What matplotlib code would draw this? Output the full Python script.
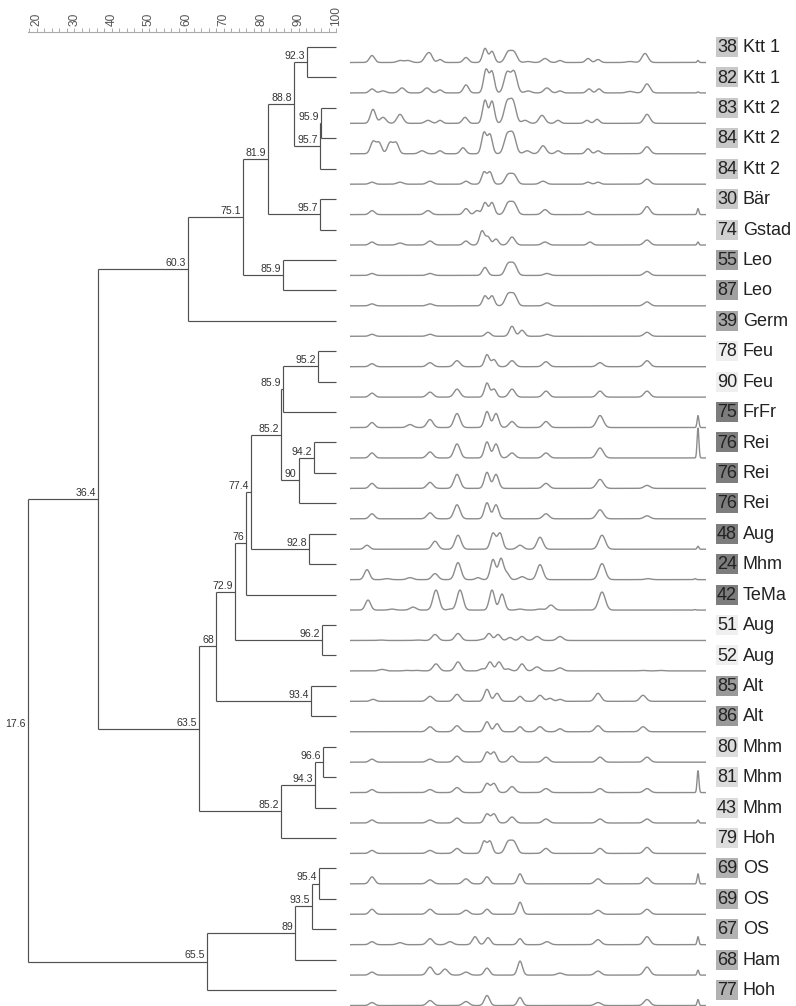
import numpy as np
import matplotlib
matplotlib.use("Agg")
import matplotlib.pyplot as plt
from matplotlib.patches import Rectangle

plt.rcParams['font.family'] = ['Liberation Sans', 'DejaVu Sans']

# ---------------- data ----------------
sample_ids = ["38", "82", "83", "84", "84", "30", "74", "55", "87", "39",
              "78", "90", "75", "76", "76", "76", "48", "24", "42", "51",
              "52", "85", "86", "80", "81", "43", "79", "69", "69", "67",
              "68", "77"]
sample_names = ["Ktt 1", "Ktt 1", "Ktt 2", "Ktt 2", "Ktt 2", "Bär", "Gstad", "Leo", "Leo", "Germ",
                "Feu", "Feu", "FrFr", "Rei", "Rei", "Rei", "Aug", "Mhm", "TeMa", "Aug",
                "Aug", "Alt", "Alt", "Mhm", "Mhm", "Mhm", "Hoh", "OS", "OS", "OS",
                "Ham", "Hoh"]
box_grays = ["#c8c8c8", "#c8c8c8", "#c8c8c8", "#c8c8c8", "#c8c8c8", "#c8c8c8", "#d0d0d0", "#a0a0a0", "#a0a0a0", "#a6a6a6",
             "#efefef", "#efefef", "#7d7d7d", "#7d7d7d", "#7d7d7d", "#7d7d7d", "#7d7d7d", "#7d7d7d", "#7d7d7d", "#efefef",
             "#efefef", "#9a9a9a", "#9a9a9a", "#dcdcdc", "#dcdcdc", "#dcdcdc", "#dcdcdc", "#b2b2b2", "#b2b2b2", "#b2b2b2",
             "#b2b2b2", "#b2b2b2"]

# cluster merges (leaf indices 0..31, internal nodes numbered from 32 on)
merge_left = [0, 2, 33, 32, 5, 35, 7, 37, 39, 10, 41, 13, 43, 42, 16, 45, 47, 19, 48, 21, 50, 23, 53, 54, 52, 40, 27, 58, 59, 60, 57]
merge_right = [1, 3, 4, 34, 6, 36, 8, 38, 9, 11, 12, 14, 15, 44, 17, 46, 18, 20, 49, 22, 51, 24, 25, 26, 55, 56, 28, 29, 30, 31, 61]
merge_similarity = [92.3, 95.9, 95.7, 88.8, 95.7, 81.9, 85.9, 75.1, 60.3, 95.2, 85.9, 94.2, 90, 85.2, 92.8, 77.4, 76,
                    96.2, 72.9, 93.4, 68, 96.6, 94.3, 85.2, 63.5, 36.4, 95.4, 93.5, 89, 65.5, 17.6]

# densitometric lane profiles: (migration distance, intensity, band width)
lane00 = [(22, 7, 2.6), (50, 2, 3), (58, 2, 3), (76, 5, 2.6), (80, 8, 2.6), (90, 3, 2.4), (116, 5, 2.6), (135, 14, 2.4),
          (142, 11, 2.4), (158, 10, 3), (164, 10, 3), (178, 1, 3), (195, 4, 3), (210, 2, 2.4), (238, 4, 2.4), (248, 3, 2.4),
          (280, 1, 3.5), (295, 9, 3), (348, 2, 0.9)]
lane01 = [(22, 4, 2.6), (33, 2, 3), (52, 5, 3), (77, 5, 3), (90, 3, 2.4), (116, 8, 2.6), (136, 23, 2.4), (142, 21, 2.4),
          (157, 20, 3), (164, 21, 3), (178, 2, 3), (197, 5, 3), (210, 2, 2.4), (239, 4, 2.4), (249, 4, 2.4),
          (280, 1.5, 3.5), (297, 9, 3), (348, 1, 0.9)]
lane02 = [(23, 14, 2.6), (33, 6, 3), (50, 9, 3), (78, 3, 3), (90, 3, 2.4), (115, 6, 2.6), (135, 23, 2.4), (142, 22, 2.4),
          (157, 20, 3), (163, 21, 3), (175, 3, 3), (192, 8, 3), (208, 3, 2.4), (237, 3, 2.4), (247, 4, 2.4), (297, 9, 3)]
lane03 = [(23, 12, 2.6), (29, 11, 2.6), (40, 11, 2.6), (46, 11, 2.6), (72, 3, 3), (90, 3, 2.4), (113, 6, 2.6), (134, 21, 2.4),
          (140, 19, 2.4), (157, 18, 3), (163, 19, 3), (177, 3, 3), (193, 8, 3), (208, 3, 2.4), (238, 5, 2.4),
          (248, 3, 2.4), (297, 7, 3)]
lane04 = [(22, 2, 2.6), (50, 2, 3), (80, 3, 3), (116, 3, 2.6), (134, 12, 2.4), (140, 12, 2.4), (158, 9, 3),
          (164, 9, 3), (193, 3, 3), (238, 2, 2.4), (248, 2, 2.4), (297, 5, 3)]
lane05 = [(22, 4, 2.6), (78, 4, 3), (116, 6, 2.6), (127, 4, 2.4), (135, 12, 2.4), (142, 12, 2.4), (158, 11, 3),
          (164, 11, 3), (195, 5, 3), (238, 3, 2.4), (297, 8, 3), (348, 6, 0.9)]
lane06 = [(22, 3, 2.6), (50, 2, 3), (80, 4, 3), (116, 4, 2.6), (132, 14, 2.4), (138, 8, 2.4), (146, 6, 2.4), (162, 8, 3),
          (195, 3, 3), (240, 3, 2.4), (297, 5, 3), (348, 3, 0.9)]
lane07 = [(22, 2, 2.6), (80, 2, 3), (135, 8, 2.6), (158, 11, 3), (164, 11, 3), (197, 2, 3), (297, 4, 3)]
lane08 = [(22, 2, 2.6), (80, 2, 3), (135, 10, 2.4), (142, 10, 2.4), (158, 11, 3), (164, 11, 3), (197, 3, 3),
          (297, 4, 3)]
lane09 = [(22, 2, 2.6), (80, 2, 3), (138, 4, 2.6), (162, 10, 2.6), (172, 6, 2.6), (197, 2, 3), (297, 4, 3)]
lane10 = [(22, 3, 2.6), (80, 4, 3), (107, 6, 3), (137, 12, 2.4), (144, 7, 2.4), (162, 6, 3), (196, 5, 3),
          (250, 4, 3), (297, 6, 3)]
lane11 = [(22, 4, 2.6), (80, 5, 3), (107, 8, 3), (137, 14, 2.4), (144, 8, 2.4), (162, 8, 3), (196, 6, 3),
          (250, 6, 3), (297, 6, 3)]
lane12 = [(22, 5, 2.6), (60, 3, 3), (80, 8, 3), (107, 14, 3), (137, 16, 2.6), (146, 14, 2.6), (162, 6, 3),
          (196, 6, 3), (250, 12, 3.3), (348, 12, 0.9)]
lane13 = [(22, 5, 2.6), (80, 6, 3), (107, 14, 3), (137, 16, 2.6), (146, 14, 2.6), (162, 5, 3), (196, 5, 3),
          (250, 10, 3.3), (348, 30, 0.9)]
lane14 = [(22, 5, 2.6), (80, 6, 3), (107, 14, 3), (137, 16, 2.6), (146, 14, 2.6), (196, 5, 3), (250, 9, 3.3),
          (297, 3, 3)]
lane15 = [(22, 5, 2.6), (80, 6, 3), (107, 14, 3), (137, 16, 2.6), (146, 14, 2.6), (196, 5, 3), (250, 9, 3.3),
          (297, 3, 3)]
lane16 = [(17, 4, 2.6), (85, 8, 3), (108, 14, 3), (143, 16, 2.6), (150, 16, 2.6), (170, 4, 3), (190, 12, 3),
          (252, 14, 3.3), (348, 3, 0.9)]
lane17 = [(17, 10, 2.6), (37, 1, 3), (60, 2, 3), (85, 6, 3), (108, 17, 3), (128, 2, 2.4), (143, 20, 2.6),
          (151, 21, 2.6), (157, 6, 2.4), (172, 3, 3), (190, 15, 3), (252, 16, 3.3), (298, 1, 3), (345, 1, 0.9)]
lane18 = [(18, 10, 2.6), (42, 1, 3), (63, 3, 3), (86, 20, 3), (100, 1, 2.4), (110, 20, 3), (142, 20, 2.6),
          (152, 16, 2.6), (170, 1, 3), (190, 1, 3), (201, 5, 3), (252, 18, 3.3), (345, 0.5, 0.9)]
lane19 = [(30, 0.5, 3), (67, 0.5, 3), (85, 6, 3), (108, 7, 3), (132, 1, 2.4), (139, 7, 2.6), (148, 6, 2.6),
          (160, 3, 2.6), (172, 4, 2.6), (187, 4, 3), (210, 4, 3)]
lane20 = [(32, 1.5, 3), (57, 0.5, 3), (67, 0.5, 3), (86, 7, 3), (108, 9, 3), (132, 2, 2.4), (140, 9, 2.6),
          (149, 9, 2.6), (158, 2, 2.6), (172, 7, 2.6), (187, 4, 3), (210, 3, 3), (292, 0.5, 3), (310, 0.5, 3)]
lane21 = [(23, 2, 2.6), (80, 5, 3), (107, 7, 3), (137, 12, 2.6), (147, 8, 2.6), (170, 5, 2.6), (190, 6, 3),
          (200, 3, 2.6), (210, 2, 2.6), (248, 8, 3), (293, 6, 3)]
lane22 = [(80, 5, 3), (107, 6, 3), (137, 10, 2.6), (147, 8, 2.6), (170, 5, 2.6), (190, 5, 3), (210, 3, 2.6),
          (248, 6, 3), (293, 5, 3)]
lane23 = [(22, 3, 2.6), (80, 3, 3), (107, 6, 3), (137, 10, 2.6), (144, 10, 2.6), (162, 6, 3), (196, 5, 3),
          (250, 5, 3), (297, 5, 3)]
lane24 = [(22, 3, 2.6), (80, 3, 3), (107, 5, 3), (137, 9, 2.6), (144, 9, 2.6), (162, 6, 3), (196, 4, 3),
          (250, 4, 3), (297, 4, 3), (348, 22, 0.9)]
lane25 = [(22, 3, 2.6), (80, 3, 3), (107, 5, 3), (137, 9, 2.6), (144, 9, 2.6), (162, 6, 3), (196, 4, 3),
          (250, 4, 3), (297, 4, 3), (348, 3, 0.9)]
lane26 = [(22, 3, 2.6), (80, 3, 3), (107, 5, 3), (134, 12, 2.4), (140, 12, 2.4), (158, 11, 3), (164, 11, 3),
          (196, 5, 3), (250, 5, 3), (297, 6, 3)]
lane27 = [(22, 7, 2.6), (80, 4, 3), (116, 5, 3), (137, 7, 2.6), (170, 10, 2.4), (248, 5, 3), (297, 6, 3),
          (348, 10, 0.9)]
lane28 = [(22, 5, 2.6), (80, 5, 3), (116, 4, 3), (137, 5, 2.6), (170, 12, 2.4), (248, 4, 3), (297, 5, 3)]
lane29 = [(22, 3, 2.6), (50, 2, 3), (80, 6, 3), (100, 3, 3), (125, 8, 2.6), (138, 7, 2.6), (170, 6, 2.4),
          (197, 3, 3), (248, 5, 3), (297, 8, 3), (348, 8, 0.9)]
lane30 = [(22, 3, 2.6), (80, 8, 3), (95, 6, 3), (116, 3, 3), (137, 7, 2.6), (170, 14, 2.4), (210, 2, 3),
          (248, 4, 3), (297, 8, 3), (348, 5, 0.9)]
lane31 = [(22, 3, 2.6), (80, 5, 3), (116, 4, 3), (137, 10, 2.6), (170, 8, 2.4), (248, 3, 3), (297, 6, 3),
          (348, 6, 0.9)]
lane_profiles = [lane00, lane01, lane02, lane03, lane04, lane05, lane06, lane07, lane08, lane09,
                 lane10, lane11, lane12, lane13, lane14, lane15, lane16, lane17, lane18, lane19,
                 lane20, lane21, lane22, lane23, lane24, lane25, lane26, lane27, lane28, lane29,
                 lane30, lane31]

scale_min, scale_max = 17.6, 100
lane_length = 356

# ---------------- figure ----------------
W, H = 796, 1006
fig = plt.figure(figsize=(W / 100, H / 100), dpi=100)

n_leaves = len(sample_ids)
row_px = 30.42
first_px = 47
ylim = ((H - first_px) / row_px, -first_px / row_px)
px_per_unit = 3.74
x_lo = 100 - 336 / px_per_unit
x_hi = 100 + 4 / px_per_unit

# dendrogram
axd = fig.add_axes([0, 0, 340 / W, 1])
axd.set_xlim(x_lo, x_hi)
axd.set_ylim(*ylim)
axd.axis('off')

node_x = {i: 100.0 for i in range(n_leaves)}
node_y = {i: float(i) for i in range(n_leaves)}
line_col = '#505050'
for k, (a, b, s) in enumerate(zip(merge_left, merge_right, merge_similarity)):
    nid = n_leaves + k
    node_x[nid] = s
    node_y[nid] = (node_y[a] + node_y[b]) / 2
    axd.plot([s, s], [node_y[a], node_y[b]], color=line_col, lw=0.85, solid_capstyle='butt')
    for c in (a, b):
        axd.plot([s, node_x[c]], [node_y[c], node_y[c]], color=line_col, lw=0.85, solid_capstyle='butt')
    lbl = ('%g' % s)
    axd.annotate(lbl, (s, node_y[nid]), xytext=(-1.5, 0.8), textcoords='offset points',
                 ha='right', va='bottom', fontsize=7.6, color='#333333')

# ruler
axr = fig.add_axes([0, 1 - 32 / H, 340 / W, 0.0001])
axr.set_xlim(x_lo, x_hi)
for sp in ['left', 'right', 'top']:
    axr.spines[sp].set_visible(False)
axr.spines['bottom'].set_bounds(scale_min, scale_max)
axr.spines['bottom'].set_color('#aaaaaa')
axr.spines['bottom'].set_linewidth(0.8)
axr.set_yticks([])
axr.set_xticks(np.arange(20, 101, 10))
axr.set_xticks(np.arange(18, 101, 2), minor=True)
axr.tick_params(axis='x', which='both', direction='in', bottom=True, top=False,
                labelbottom=False, labeltop=True, length=3, width=0.7, color='#aaaaaa',
                labelrotation=90, labelsize=8.6, labelcolor='#555555', pad=4)
axr.patch.set_visible(False)

# lane profiles
axt = fig.add_axes([350 / W, 0, lane_length / W, 1])
axt.set_xlim(0, lane_length)
axt.set_ylim(*ylim)
axt.axis('off')
xs = np.linspace(0, lane_length, 1400)
for i, peaks in enumerate(lane_profiles):
    prof = np.zeros_like(xs)
    for p, h, w in peaks:
        prof += h * np.exp(-0.5 * ((xs - p) / w) ** 2)
    axt.plot(xs, i + 15.5 / row_px - prof / row_px, color='#8c8c8c', lw=1.0)

# labels
axl = fig.add_axes([710 / W, 0, 86 / W, 1])
axl.set_xlim(0, 86)
axl.set_ylim(*ylim)
axl.axis('off')
box_h = 20 / row_px
for i, (sid, name, g) in enumerate(zip(sample_ids, sample_names, box_grays)):
    axl.add_patch(Rectangle((6, i - box_h / 2), 22, box_h, facecolor=g, edgecolor='none'))
    axl.text(17, i + 0.02, sid, ha='center', va='center', fontsize=13, color='#222222')
    axl.text(33, i + 0.02, name, ha='left', va='center', fontsize=13, color='#222222')

fig.savefig('out.png', dpi=100)
